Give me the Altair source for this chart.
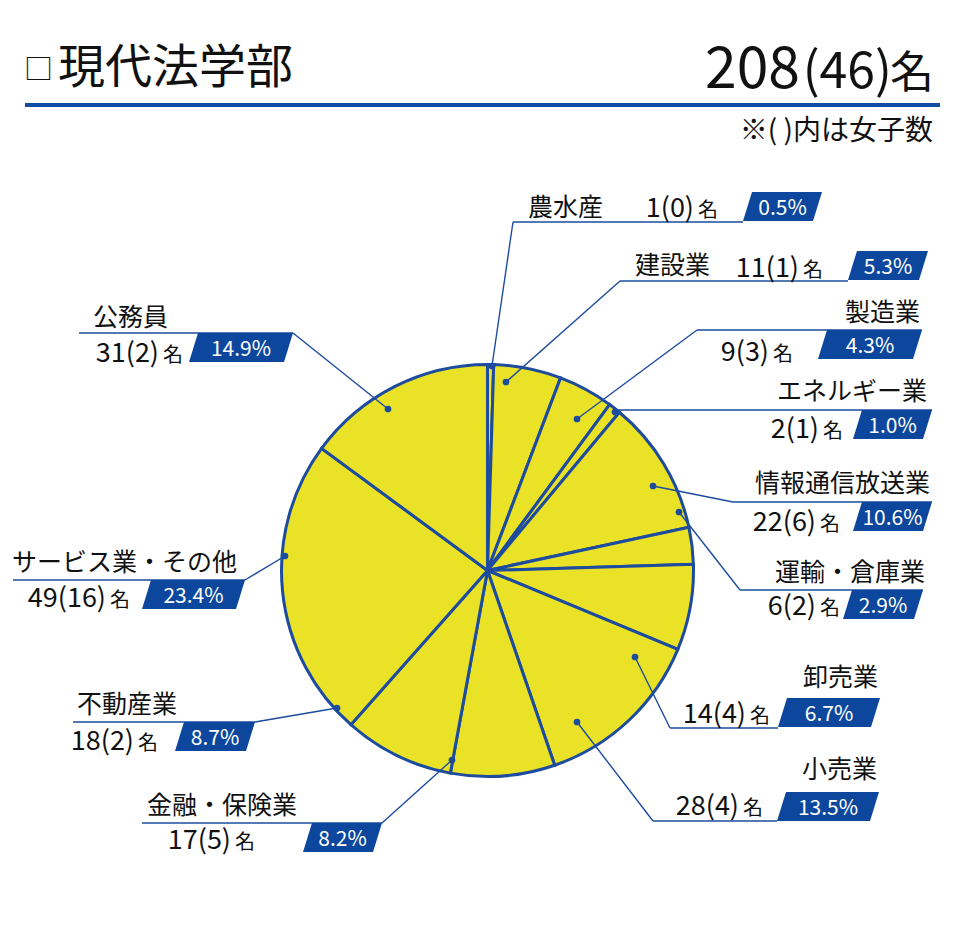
import altair as alt
import pandas as pd

# ---------------- data ----------------
categories = ["農水産", "建設業", "製造業", "エネルギー業", "情報通信放送業", "運輸・倉庫業",
              "卸売業", "小売業", "金融・保険業", "不動産業", "サービス業・その他", "公務員"]
counts = [1, 11, 9, 2, 22, 6, 14, 28, 17, 18, 49, 31]
women = [0, 1, 3, 1, 6, 2, 4, 4, 5, 2, 16, 2]
percents = ["0.5%", "5.3%", "4.3%", "1.0%", "10.6%", "2.9%", "6.7%", "13.5%", "8.2%", "8.7%", "23.4%", "14.9%"]
title_text = "現代法学部"
total_count = "208"
total_women = "(46)"
unit = "名"
note_text = "※( )内は女子数"

# ---------------- layout (page pixels) ----------------
PIE_CX, PIE_CY, PIE_R = 487.5, 570.5, 206
layout = {
    "農水産":        dict(na="left",  nx=528, ny=216, cx=718, cy=217, uy=222, ux0=513, ux1=743, lx=513, dx=492, dy=366, bl=743, bw=70, bt=192),
    "建設業":        dict(na="left",  nx=635, ny=274, cx=823, cy=277, uy=281, ux0=620, ux1=848, lx=620, dx=506, dy=382, bl=848, bw=71, bt=251),
    "製造業":        dict(na="right", nx=920, ny=321, cx=793, cy=361, uy=330, ux0=697, ux1=922, lx=697, dx=577, dy=419, bl=818, bw=95, bt=330),
    "エネルギー業":   dict(na="right", nx=927, ny=400, cx=843, cy=438, uy=410, ux0=615, ux1=932, lx=615, dx=615, dy=412, bl=853, bw=70, bt=410),
    "情報通信放送業": dict(na="right", nx=930, ny=492, cx=840, cy=531, uy=502, ux0=733, ux1=932, lx=733, dx=653, dy=486, bl=853, bw=70, bt=502),
    "運輸・倉庫業":   dict(na="right", nx=925, ny=581, cx=840, cy=615, uy=590, ux0=740, ux1=923, lx=740, dx=679, dy=512, bl=843, bw=71, bt=590),
    "卸売業":        dict(na="right", nx=878, ny=686, cx=770, cy=723, uy=728, ux0=670, ux1=778, lx=670, dx=635, dy=657, bl=778, bw=93, bt=698),
    "小売業":        dict(na="right", nx=877, ny=778, cx=763, cy=815, uy=821, ux0=653, ux1=777, lx=653, dx=577, dy=722, bl=777, bw=93, bt=792),
    "金融・保険業":   dict(na="left",  nx=147, ny=814, cx=255, cy=849, uy=823, ux0=142, ux1=382, lx=382, dx=452, dy=760, bl=303, bw=70, bt=823),
    "不動産業":      dict(na="left",  nx=77,  ny=713, cx=158, cy=750, uy=722, ux0=73,  ux1=255, lx=255, dx=337, dy=708, bl=175, bw=71, bt=722),
    "サービス業・その他": dict(na="left", nx=12, ny=571, cx=130, cy=607, uy=580, ux0=13, ux1=245, lx=245, dx=285, dy=556, bl=142, bw=94, bt=580),
    "公務員":        dict(na="left",  nx=93,  ny=326, cx=183, cy=362, uy=333, ux0=79,  ux1=293, lx=293, dx=388, dy=409, bl=189, bw=95, bt=333),
}
BADGE_H = 29
SLANT = 9

YELLOW = "#EAE227"
BLUE = "#1D4C9E"
BADGE = "#0C479D"
RULE = "#0E4DA3"
JP = "Noto Sans CJK JP"
NUM = "Noto Sans CJK JP"

W, H = 944, 915
xs = alt.Scale(domain=[8, 8 + W], nice=False, zero=False)
ys = alt.Scale(domain=[8, 8 + H], nice=False, zero=False, reverse=True)


def X(f):
    return alt.X(f, type="quantitative", scale=xs, axis=None)


def Y(f):
    return alt.Y(f, type="quantitative", scale=ys, axis=None)


# ---------------- tables ----------------
pie_df = pd.DataFrame({"cat": categories, "n": counts, "idx": range(len(categories)),
                       "px": PIE_CX, "py": PIE_CY})

rows = []
for i, c in enumerate(categories):
    L = layout[c]
    rows.append(dict(cat=c, label=c, count=f"{counts[i]}({women[i]})", unit=unit, pct=percents[i],
                     **L,
                     pctx=L["bl"] + L["bw"] / 2 + SLANT / 2, pcty=L["bt"] + BADGE_H - 6,
                     unitx=L["cx"] - 24))
lab = pd.DataFrame(rows)

badge_rows = []
for r in rows:
    badge_rows.append(dict(cat=r["cat"], y=r["bt"], x=r["bl"] + SLANT, x2=r["bl"] + r["bw"] + SLANT))
    badge_rows.append(dict(cat=r["cat"], y=r["bt"] + BADGE_H, x=r["bl"], x2=r["bl"] + r["bw"]))
badge_df = pd.DataFrame(badge_rows)

# ---------------- layers ----------------
pie = alt.Chart(pie_df).mark_arc(outerRadius=PIE_R, fill=YELLOW, stroke=BLUE, strokeWidth=3).encode(
    theta=alt.Theta("n:Q", stack=True),
    order=alt.Order("idx:Q"),
    x=X("px"), y=Y("py"),
)

base = alt.Chart(lab)
underline = base.mark_rule(color=BLUE, strokeWidth=1.4).encode(x=X("ux0"), x2="ux1", y=Y("uy"))
leader = base.mark_rule(color=BLUE, strokeWidth=1.4).encode(x=X("lx"), y=Y("uy"), x2="dx", y2="dy")
dots = base.mark_circle(color=BLUE, opacity=1, size=45).encode(x=X("dx"), y=Y("dy"))

badges = alt.Chart(badge_df).mark_area(orient="horizontal", color=BADGE, opacity=1).encode(
    y=Y("y"), x=X("x"), x2="x2", detail="cat:N")
pct_text = base.mark_text(font=NUM, fontSize=21, color="white", align="center",
                          baseline="alphabetic").encode(
    x=X("pctx"), y=Y("pcty"), text="pct:N")

names_l = base.transform_filter("datum.na == 'left'").mark_text(
    font=JP, fontSize=25, align="left", baseline="alphabetic", color="#111").encode(
    x=X("nx"), y=Y("ny"), text="label:N")
names_r = base.transform_filter("datum.na == 'right'").mark_text(
    font=JP, fontSize=25, align="right", baseline="alphabetic", color="#111").encode(
    x=X("nx"), y=Y("ny"), text="label:N")
count_txt = base.mark_text(font=JP, fontSize=27, align="right", baseline="alphabetic", color="#111").encode(
    x=X("unitx"), y=Y("cy"), text="count:N")
unit_txt = base.mark_text(font=JP, fontSize=20, align="right", baseline="alphabetic", color="#111").encode(
    x=X("cx"), y=Y("cy"), text="unit:N")

# header
hdr = pd.DataFrame([
    dict(t="□", x=24, y=80, s=29, a="left", f=JP),
    dict(t=title_text, x=58, y=83, s=47, a="left", f=JP),
    dict(t=total_count, x=800, y=88, s=57, a="right", f=NUM),
    dict(t=total_women, x=892, y=88, s=50, a="right", f=NUM),
    dict(t=unit, x=934, y=88, s=44, a="right", f=JP),
    dict(t=note_text, x=933, y=140, s=28, a="right", f=JP),
])
hdr_layers = []
for _, r in hdr.iterrows():
    hdr_layers.append(alt.Chart(pd.DataFrame([r])).mark_text(
        font=r["f"], fontSize=float(r["s"]), align=r["a"], baseline="alphabetic", color="#111").encode(
        x=X("x"), y=Y("y"), text="t:N"))

rule_df = pd.DataFrame([dict(x0=25, x1=940, y=105)])
top_rule = alt.Chart(rule_df).mark_rule(color=RULE, strokeWidth=4).encode(x=X("x0"), x2="x1", y=Y("y"))

chart = alt.layer(
    pie, underline, leader, dots, badges, pct_text, names_l, names_r, count_txt, unit_txt,
    top_rule, *hdr_layers
).properties(
    width=W, height=H, padding=0, autosize=alt.AutoSizeParams(type="none")
).configure_view(stroke=None)

chart.save("out.html", embed_options={"renderer": "svg", "actions": False})
